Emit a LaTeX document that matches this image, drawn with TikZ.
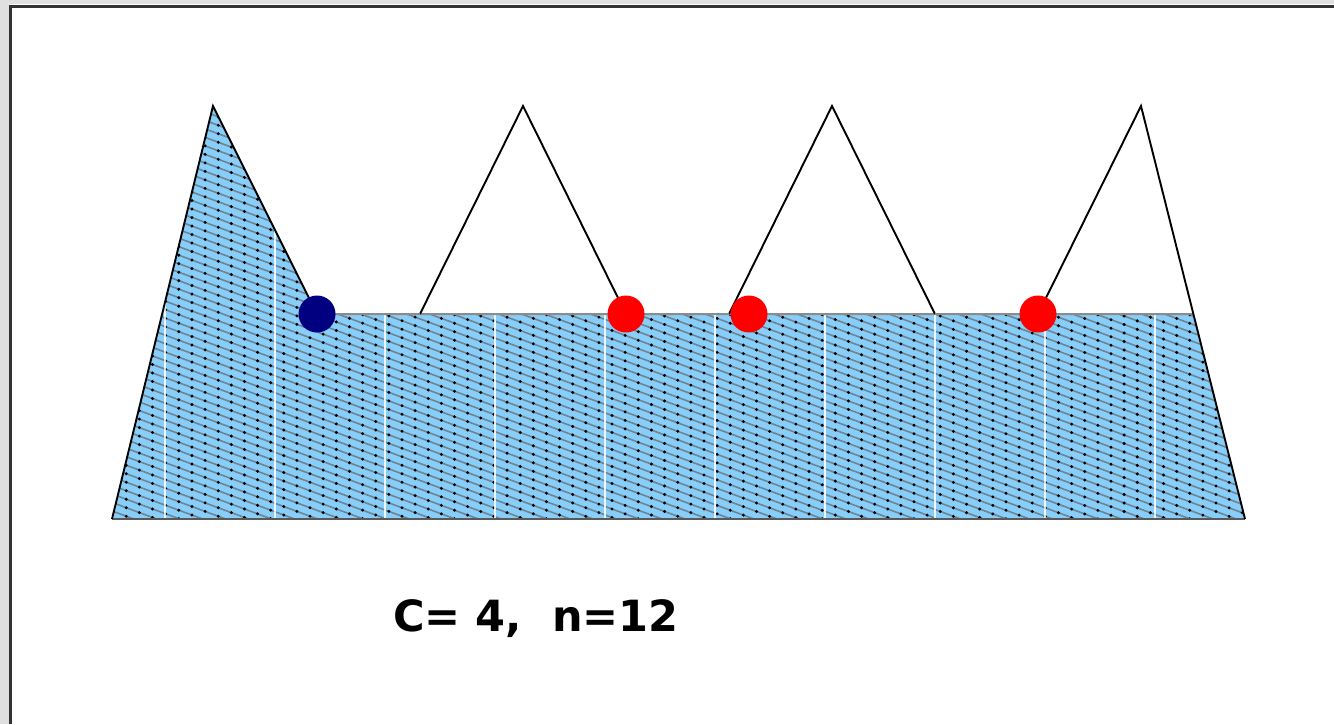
\documentclass[tikz,border=0pt]{standalone}
\usepackage{fontspec}
\newfontfamily\verd{DejaVu Sans}
\usetikzlibrary{calc}
\definecolor{skyfill}{RGB}{135,206,250}
\definecolor{framegray}{RGB}{224,224,224}
\definecolor{navydot}{RGB}{0,0,128}
\tikzset{
  outline/.style={draw=black, line width=1.9pt, line join=miter},
  waterline/.style={draw=black!45, line width=2pt},
  hatchline/.style={draw=black!60, line width=1.6pt, opacity=0.7},
  hatchdots/.style={draw=black, line width=3.3pt, line cap=round, dash pattern=on 0pt off 14pt},
  gridline/.style={draw=white, line width=1.4pt, opacity=0.85},
  reddot/.style={circle, fill=red, inner sep=0pt, minimum size=37pt},
  bluedot/.style={circle, fill=navydot, inner sep=0pt, minimum size=37pt},
  label/.style={font=\verd\bfseries\fontsize{43}{52}\selectfont, anchor=base, inner sep=0pt}
}
\begin{document}
\begin{tikzpicture}[x=1pt,y=-1pt]
\useasboundingbox (0,0) rectangle (1334,724);
\fill[white] (0,0) rectangle (1334,724);
\fill[framegray] (0,0) rectangle (9,724);
\fill[framegray] (0,0) rectangle (1334,4);
\draw[line width=3.5pt, black!80] (10.5,724) -- (10.5,6.5) -- (1334,6.5);

\coordinate (bl) at (112,519);
\coordinate (p1) at (213,106);
\coordinate (v1) at (317,314);
\coordinate (v2) at (420,314);
\coordinate (p2) at (523,106);
\coordinate (v3) at (626,314);
\coordinate (v4) at (729,314);
\coordinate (p3) at (832,106);
\coordinate (v5) at (935,314);
\coordinate (v6) at (1038,314);
\coordinate (p4) at (1141,106);
\coordinate (br) at (1245,519);
\coordinate (w) at ($(p4)!{208/413}!(br)$);

\fill[skyfill] (bl) -- (p1) -- (v1) -- (w) -- (br) -- cycle;
\begin{scope}
  \clip (bl) -- (p1) -- (v1) -- (w) -- (br) -- cycle;
  \foreach \i in {0,...,102} {
    \draw[hatchline] (100,-335+\i*8.5) -- ++(1170,433);
    \draw[hatchdots] (100,-335+\i*8.5) -- ++(1170,433);
  }
  \foreach \x in {165,275,...,1155} {
    \draw[gridline] (\x,90) -- (\x,530);
  }
\end{scope}

\draw[waterline] (v1) -- (w);
\draw[line width=2pt, black!65] (bl) -- (br);
\draw[outline] (bl) -- (p1) -- (v1);
\draw[outline] (v2) -- (p2) -- (v3);
\draw[outline] (v4) -- (p3) -- (v5);
\draw[outline] (v6) -- (p4) -- (br);
\draw[waterline] (v1) -- (v2) (v3) -- (v4) (v5) -- (v6);

\node[bluedot] (b1) at (v1) {};
\node[reddot] (r1) at (v3) {};
\node[reddot] (r2) at (749,314) {};
\node[reddot] (r3) at (v6) {};

\node[label] (lbl) at (536,631) {C= 4,\ \ n=12};
\end{tikzpicture}
\end{document}
